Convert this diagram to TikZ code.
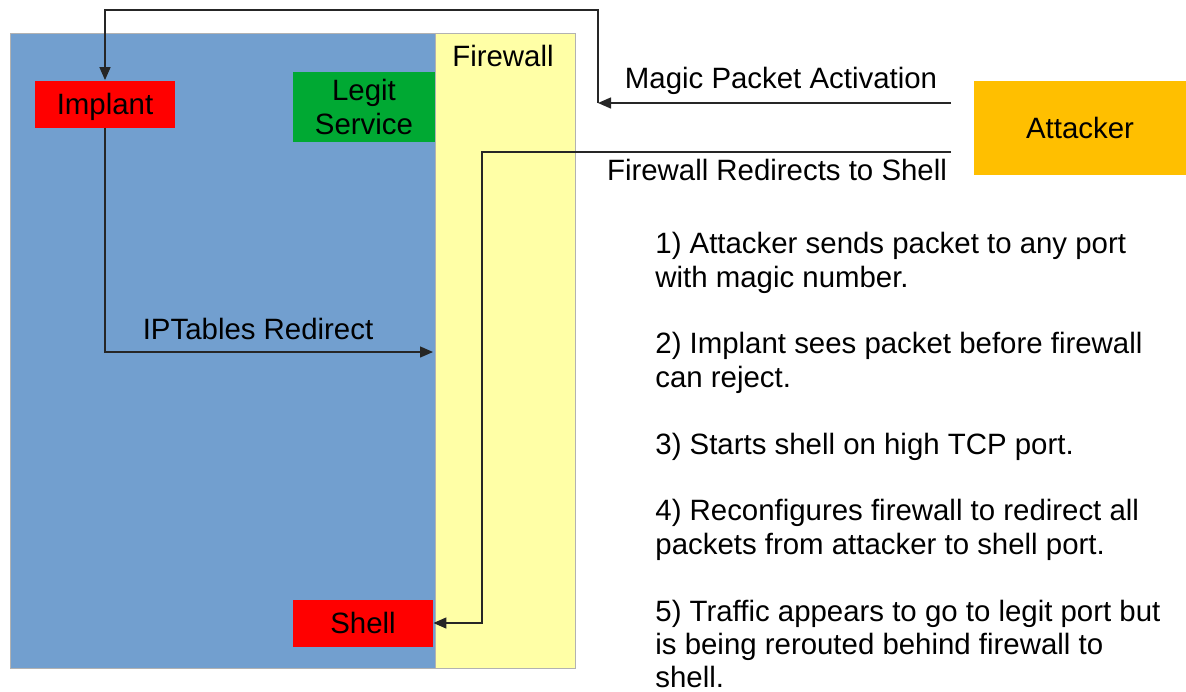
\documentclass[tikz,border=0pt]{standalone}
\usepackage{fontspec}
\setmainfont{Liberation Sans}
\usetikzlibrary{arrows.meta}
\definecolor{hostblue}{HTML}{729FCF}
\definecolor{fwyellow}{HTML}{FFFFA6}
\definecolor{procred}{HTML}{FF0000}
\definecolor{legitgreen}{HTML}{00A933}
\definecolor{attackorange}{HTML}{FFBF00}
\tikzset{>={Triangle[length=6.5pt,width=5.5pt]}}
\tikzset{
  zone/.style={draw=gray!60, line width=0.4pt, inner sep=0pt},
  procbox/.style={fill=procred, minimum width=70pt, minimum height=23.5pt, inner sep=0pt},
  wire/.style={->, line width=0.7pt, draw=black!85},
  lbl/.style={inner sep=0pt},
}

\begin{document}
\begin{tikzpicture}[x=0.5pt, y=-0.5pt, font=\fontsize{14.7}{16.7}\selectfont]
\useasboundingbox (0,0) rectangle (1186,691);
% host and firewall
\node[zone, fill=hostblue, minimum width=282.5pt, minimum height=317.5pt] (host) at (292.5,350.5) {};
\node[zone, fill=fwyellow, minimum width=70pt, minimum height=317.5pt] (firewall) at (505,350.5) {};
\node[lbl] (fwname) at (503,56) {Firewall};
% boxes
\node[procbox, text depth=0pt] (implant) at (105,104) {Implant};
\node[procbox, fill=legitgreen, minimum width=71pt, minimum height=35pt, align=center] (legit) at (364,107) {Legit\\Service};
\node[procbox] (shell) at (363,623) {Shell};
\node[fill=attackorange, minimum width=106pt, minimum height=47pt, inner sep=0pt] (attacker) at (1080,128) {Attacker};
% bends
\coordinate (magic in) at (951,103);
\coordinate (magic turn) at (598,103);
\coordinate (magic top) at (598,10);
\coordinate (redir in) at (951,152);
\coordinate (redir turn) at (482,152);
\coordinate (ipt end) at (433,352);
% connectors
\draw[wire] (magic in) -- (magic turn);
\draw[wire] (magic turn) -- (magic top) -| (implant.north);
\draw[wire] (redir in) -- (redir turn) |- (shell.east);
\draw[wire] (implant.south) |- (ipt end);
\node[lbl] (magic lbl) at (781,81) {Magic Packet Activation};
\node[lbl] (redir lbl) at (777,170) {Firewall Redirects to Shell};
\node[lbl] (ipt lbl) at (258,329) {IPTables Redirect};
% steps
\node[lbl, anchor=north west, align=left] (steps) at (655,232) {1) Attacker sends packet to any port\\with magic number.\\[16.7pt]2) Implant sees packet before firewall\\can reject.\\[16.7pt]3) Starts shell on high TCP port.\\[16.7pt]4) Reconfigures firewall to redirect all\\packets from attacker to shell port.\\[16.7pt]5) Traffic appears to go to legit port but\\is being rerouted behind firewall to\\shell.};
\end{tikzpicture}
\end{document}
